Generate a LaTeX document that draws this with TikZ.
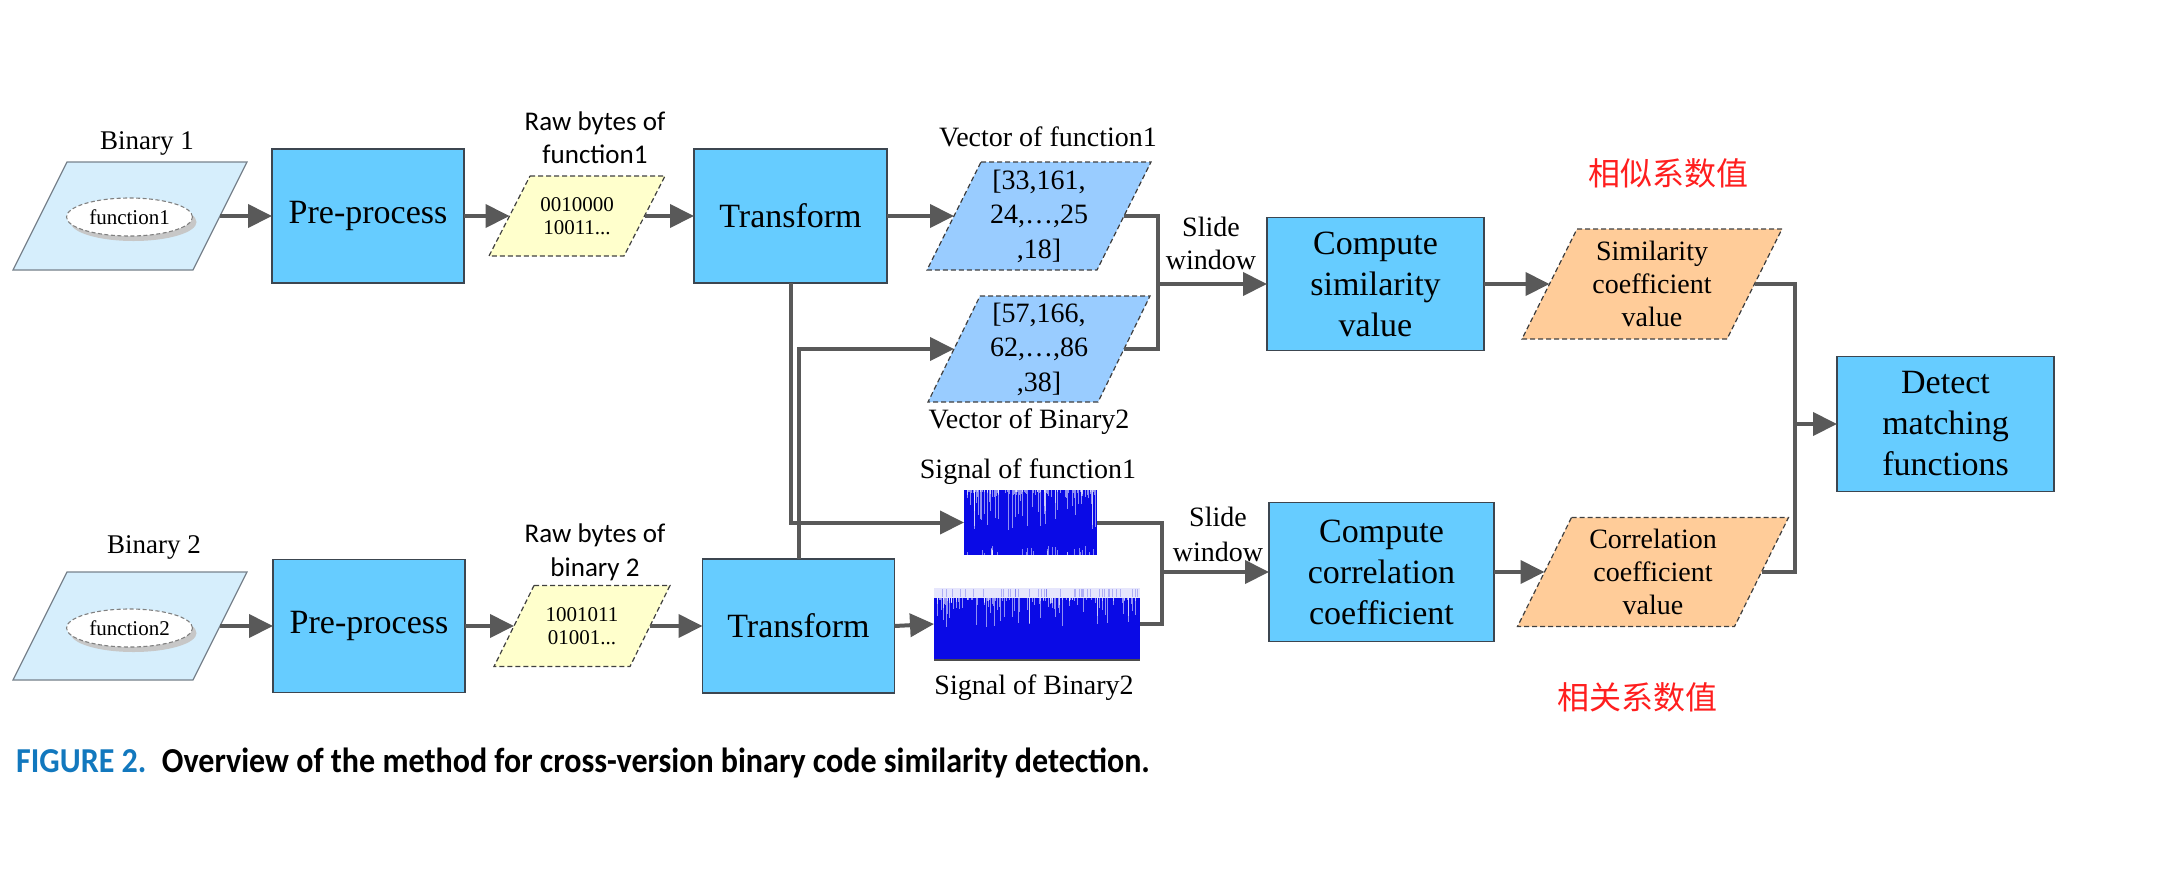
\documentclass[tikz,border=0pt]{standalone}
\usepackage{fontspec}
\setmainfont{Liberation Serif}
\newfontfamily\calibri{Carlito}
\newfontfamily\cjk{Noto Sans CJK SC}
\usetikzlibrary{arrows.meta,backgrounds,shapes.geometric,shadows}
\definecolor{boxblue}{RGB}{102,204,255}
\definecolor{boxedge}{RGB}{60,70,80}
\definecolor{binfill}{RGB}{214,238,252}
\definecolor{binedge}{RGB}{120,130,140}
\definecolor{yelfill}{RGB}{255,255,204}
\definecolor{vecfill}{RGB}{153,204,255}
\definecolor{peach}{RGB}{255,204,153}
\definecolor{linegray}{RGB}{89,89,89}
\definecolor{capblue}{RGB}{18,120,190}
\definecolor{sigblue}{RGB}{10,10,230}
\definecolor{cnred}{RGB}{255,30,30}
\newcommand\drawpara[4]{\path[#4,fill=#3] ([xshift=#2pt]#1.north west) -- ([xshift=#2pt]#1.north east) -- ([xshift=-#2pt]#1.south east) -- ([xshift=-#2pt]#1.south west) -- cycle;}
\tikzset{
 box/.style={draw=boxedge, fill=boxblue, line width=1.5pt, inner sep=0pt, outer sep=0pt, align=center, font=\fontsize{34}{41}\selectfont},
 pnode/.style={inner sep=0pt, outer sep=0pt, align=center},
 conn/.style={draw=linegray, line width=4pt},
 arr/.style={conn, -{Triangle[length=24pt,width=23pt]}},
 dashedge/.style={draw=black!75, line width=1.2pt, dash pattern=on 5pt off 3pt},
 binedge/.style={draw=binedge, line width=1.2pt},
 lbl/.style={inner sep=0pt, align=center, font=\fontsize{28}{33}\selectfont},
 fell/.style={ellipse, draw=gray, line width=1.1pt, dash pattern=on 4pt off 2.5pt, fill=white, minimum width=126pt, minimum height=38pt, inner sep=0pt, font=\fontsize{21}{21}\selectfont, drop shadow={shadow xshift=4pt, shadow yshift=-5pt, fill=black!22, opacity=1}},
 signal/.style={fill=sigblue, inner sep=0pt, outer sep=0pt},
}
\begin{document}
\begin{tikzpicture}[x=1pt,y=-1pt]
\useasboundingbox (0,0) rectangle (2174,876);

% ---------- parallelogram holders ----------
\node[pnode, minimum width=180pt, minimum height=108pt] (bin1) at (130,216) {};
\node[pnode, minimum width=180pt, minimum height=108pt] (bin2) at (130,626) {};
\node[pnode, minimum width=135pt, minimum height=80pt, font=\fontsize{21}{23}\selectfont] (yel1) at (577,216) {0010000\\10011...};
\node[pnode, minimum width=136pt, minimum height=81pt, font=\fontsize{21}{23}\selectfont] (yel2) at (582,626) {1001011\\01001...};
\node[pnode, minimum width=170pt, minimum height=108pt, font=\fontsize{28}{34.5}\selectfont] (vec1) at (1039,216) {[33,161,\\24,…,25\\,18]};
\node[pnode, minimum width=170pt, minimum height=106pt, font=\fontsize{28}{34.5}\selectfont] (vec2) at (1039,349) {[57,166,\\62,…,86\\,38]};
\node[pnode, minimum width=205pt, minimum height=110pt, font=\fontsize{28}{33}\selectfont] (sim) at (1652,284) {Similarity\\coefficient\\value};
\node[pnode, minimum width=217pt, minimum height=109pt, font=\fontsize{28}{33}\selectfont] (cor) at (1653,572) {Correlation\\coefficient\\value};

\begin{scope}[on background layer]
 \begin{scope}[shift={(4,5)}]
  \drawpara{bin1}{27}{black!20}{}
  \drawpara{bin2}{27}{black!20}{}
 \end{scope}
 \drawpara{bin1}{27}{binfill}{binedge}
 \drawpara{bin2}{27}{binfill}{binedge}
 \drawpara{yel1}{20.5}{yelfill}{dashedge}
 \drawpara{yel2}{20}{yelfill}{dashedge}
 \drawpara{vec1}{27}{vecfill}{dashedge}
 \drawpara{vec2}{26}{vecfill}{dashedge}
 \drawpara{sim}{27.5}{peach}{dashedge}
 \drawpara{cor}{27}{peach}{dashedge}
\end{scope}

% ---------- ellipses ----------
\node[fell] (f1) at (129.5,217) {function1};
\node[fell] (f2) at (129.5,628) {function2};

% ---------- boxes ----------
\node[box, minimum width=192pt, minimum height=134pt] (pre1) at (368,216) {Pre-process};
\node[box, minimum width=192pt, minimum height=133pt] (pre2) at (369,626) {Pre-process};
\node[box, minimum width=193pt, minimum height=134pt] (tr1) at (790.5,216) {Transform};
\node[box, minimum width=192pt, minimum height=134pt] (tr2) at (798.5,626) {Transform};
\node[box, minimum width=217pt, minimum height=133pt] (cs) at (1375.5,284) {Compute\\similarity\\value};
\node[box, minimum width=225pt, minimum height=139pt] (cc) at (1381.5,572) {Compute\\correlation\\coefficient};
\node[box, minimum width=217pt, minimum height=135pt] (det) at (1945.5,424) {Detect\\matching\\functions};

% ---------- signals ----------
\node[signal, minimum width=133pt, minimum height=65pt] (s1) at (1030.5,522.5) {};
\node[signal, minimum width=206pt, minimum height=72pt] (s2) at (1037,624) {};
\pgfmathsetseed{42}
\foreach \i in {1,...,110}{
 \pgfmathsetmacro\xx{966+129*rnd}
 \pgfmathsetmacro\rr{rnd}
 \pgfmathsetmacro\ll{2+38*\rr*\rr*\rr}
 \draw[white, opacity=0.55, line width=0.8pt] (\xx,490) -- ++(0,\ll);
}
\foreach \i in {1,...,30}{
 \pgfmathsetmacro\xx{966+129*rnd}
 \pgfmathsetmacro\ll{2+7*rnd}
 \draw[white, opacity=0.5, line width=0.8pt] (\xx,555) -- ++(0,-\ll);
}
\fill[white, opacity=0.9] (s2.north west) rectangle ([yshift=-10pt]s2.north east);
\foreach \i in {1,...,40}{
 \pgfmathsetmacro\xx{936+202*rnd}
 \draw[sigblue, opacity=0.25, line width=0.8pt] (\xx,589) -- ++(0,8);
}
\foreach \i in {1,...,120}{
 \pgfmathsetmacro\xx{936+202*rnd}
 \pgfmathsetmacro\rr{rnd}
 \pgfmathsetmacro\ll{2+28*\rr*\rr*\rr}
 \draw[white, opacity=0.55, line width=0.8pt] (\xx,598) -- ++(0,\ll);
}
\draw[black!70, line width=1.2pt] (s2.south west) -- (s2.south east);

% ---------- labels ----------
\node[lbl, font=\fontsize{27}{33}\selectfont] (lb1) at (147,143) {Binary 1};
\node[lbl, font=\fontsize{27}{33}\selectfont] (lb2) at (154,547) {Binary 2};
\node[lbl, font=\calibri\fontsize{27}{33}\selectfont] (lraw1) at (595,138) {Raw bytes of\\function1};
\node[lbl, font=\calibri\fontsize{27}{34}\selectfont] (lraw2) at (595,552) {Raw bytes of\\binary 2};
\node[lbl] (lvec1) at (1048,137) {Vector of function1};
\node[lbl] (lvec2) at (1029,422) {Vector of Binary2};
\node[lbl] (lsig1) at (1028,472) {Signal of function1};
\node[lbl] (lsig2) at (1034,688) {Signal of Binary2};
\node[lbl] (lsw1) at (1211,243) {Slide\\window};
\node[lbl, font=\fontsize{28}{35}\selectfont] (lsw2) at (1218,534) {Slide\\window};
\node[inner sep=0pt, font=\cjk\fontsize{32}{32}\selectfont, text=cnred] (cn1) at (1668,173) {相似系数值};
\node[inner sep=0pt, font=\cjk\fontsize{32}{32}\selectfont, text=cnred] (cn2) at (1637,697) {相关系数值};
\node[anchor=west, inner sep=0pt, font=\calibri\bfseries\fontsize{35}{35}\selectfont] (cap) at (16,763) {\scalebox{0.915}[1]{\textcolor{capblue}{FIGURE 2.}\hspace{17pt}Overview of the method for cross-version binary code similarity detection.}};

% ---------- connectors ----------
\coordinate (j1) at (1158,284);
\coordinate (j2) at (1162,572);
\coordinate (j3) at (1795,424);
\draw[arr] (bin1.east) -- (pre1.west);
\draw[arr] (pre1.east) -- (yel1.west);
\draw[arr] (yel1.east) -- (tr1.west);
\draw[arr] (tr1.east) -- (vec1.west);
\draw[arr] (bin2.east) -- (pre2.west);
\draw[arr] (pre2.east) -- (yel2.west);
\draw[arr] (yel2.east) -- (tr2.west);
\draw[arr] (tr2.east) -- (s2.west);
\draw[arr] (tr1.south) |- (s1.west);
\draw[arr] (tr2.north) |- (vec2.west);
\draw[conn] (vec1.east) -| (j1) |- (vec2.east);
\draw[arr] (j1) -- (cs.west);
\draw[conn] (s1.east) -| (j2) |- (s2.east);
\draw[arr] (j2) -- (cc.west);
\draw[arr] (cs.east) -- (sim.west);
\draw[arr] (cc.east) -- (cor.west);
\draw[conn] (sim.east) -| (j3) |- (cor.east);
\draw[arr] (j3) -- (det.west);
\end{tikzpicture}
\end{document}
